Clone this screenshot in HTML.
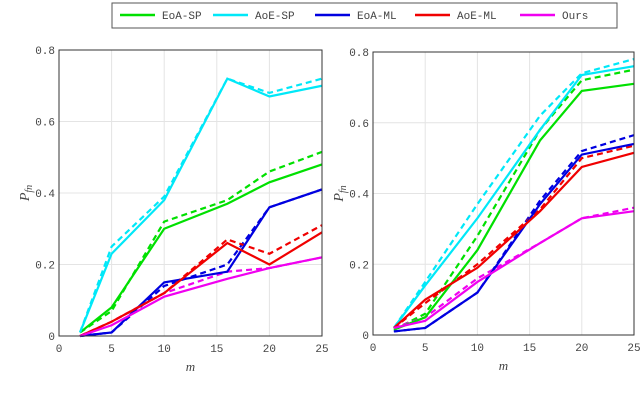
<!DOCTYPE html>
<html><head><meta charset="utf-8"><style>
body{margin:0;background:#fff}
svg text{font-family:"Liberation Mono",monospace;fill:#444}
</style></head><body>
<svg id="c" width="640" height="410" xmlns="http://www.w3.org/2000/svg"></svg>
<script>
const xs=[2,5,10,16,20,25];
const xTicks=[0,5,10,15,20,25];
const yTicks=[0,0.2,0.4,0.6,0.8];
const yTickLabels=["0","0.2","0.4","0.6","0.8"];
const seriesNames=["EoA-SP","AoE-SP","EoA-ML","AoE-ML","Ours"];
const seriesColors=["#00e000","#00e8f8","#0000e0","#f00000","#f000f0"];
const leftSolid=[[.01,.08,.30,.37,.43,.48],[.01,.23,.38,.72,.67,.70],[0,.01,.15,.18,.36,.41],[0,.04,.12,.26,.20,.29],[0,.03,.11,.16,.19,.22]];
const leftDashed=[[.01,.07,.32,.38,.46,.515],[.01,.25,.39,.72,.68,.72],[0,.01,.14,.20,.36,.41],[0,.04,.12,.27,.23,.31],[0,.04,.12,.18,.19,.22]];
const rightSolid=[[.015,.05,.24,.55,.69,.71],[.02,.14,.33,.58,.735,.76],[.01,.02,.12,.37,.51,.54],[.02,.10,.19,.35,.475,.515],[.02,.04,.15,.26,.33,.35]];
const rightDashed=[[.015,.06,.28,.58,.72,.75],[.02,.15,.37,.62,.74,.78],[.01,.02,.12,.38,.52,.565],[.02,.09,.20,.355,.50,.535],[.02,.05,.16,.26,.33,.36]];
const NS="http://www.w3.org/2000/svg";
const svg=document.getElementById('c');
function mk(t,a,p){const e=document.createElementNS(NS,t);for(const k in a)e.setAttribute(k,a[k]);(p||svg).appendChild(e);return e;}
function panel(id,L,R,T,B,solid,dashed){
  const g=mk('g',{});
  
  
  const sx=v=>L+(v/25)*(R-L), sy=v=>B-(v/0.8)*(B-T);
  mk('rect',{x:L,y:T,width:R-L,height:B-T,fill:'#fff',stroke:'none'},g);
  xTicks.forEach(t=>{mk('line',{x1:sx(t),x2:sx(t),y1:T,y2:B,stroke:'#e4e4e4'},g);
    const tx=mk('text',{x:sx(t),y:B+16,'font-size':11,'text-anchor':'middle'},g);tx.textContent=t;
    
    });
  yTicks.forEach((t,i)=>{mk('line',{x1:L,x2:R,y1:sy(t),y2:sy(t),stroke:'#e4e4e4'},g);
    const tx=mk('text',{x:L-4,y:sy(t)+4,'font-size':11,'text-anchor':'end'},g);tx.textContent=yTickLabels[i];
    
    });
  const draw=(arr,dash,kind)=>arr.forEach((s,i)=>{
    const p=mk('polyline',{points:s.map((v,j)=>sx(xs[j])+','+sy(v)).join(' '),fill:'none',stroke:seriesColors[i],'stroke-width':2.2,'stroke-dasharray':dash?'6,4':'none'},g);
    
    });
  draw(dashed,true,'dashed');draw(solid,false,'solid');
  mk('rect',{x:L,y:T,width:R-L,height:B-T,fill:'none',stroke:'#333'},g);
  const xl=mk('text',{x:(L+R)/2,y:B+35,'font-size':13,'font-style':'italic','text-anchor':'middle',style:'font-family:"Liberation Serif",serif'},g);xl.textContent='m';
  
  
  const yl=mk('text',{x:0,y:0,'font-size':14,'font-style':'italic','text-anchor':'middle',transform:`translate(${L-30},${(T+B)/2}) rotate(-90)`,style:'font-family:"Liberation Serif",serif'},g);
  yl.innerHTML='P<tspan font-size="10" dy="3">fn</tspan>';
  
  
}
panel('left-panel',59,322,50,336,leftSolid,leftDashed);
panel('right-panel',373,634,52,335,rightSolid,rightDashed);
// legend
const lg=mk('g',{});


mk('rect',{x:112,y:3,width:505,height:25,fill:'#fff',stroke:'#555'},lg);
const lx=[120,213,315,415,520];
seriesNames.forEach((n,i)=>{
  const e=mk('g',{},lg);
  
  
  mk('line',{x1:lx[i],x2:lx[i]+35,y1:15,y2:15,stroke:seriesColors[i],'stroke-width':2.5},e);
  const t=mk('text',{x:lx[i]+42,y:19,'font-size':11},e);t.textContent=n;
});
</script>
</body></html>
